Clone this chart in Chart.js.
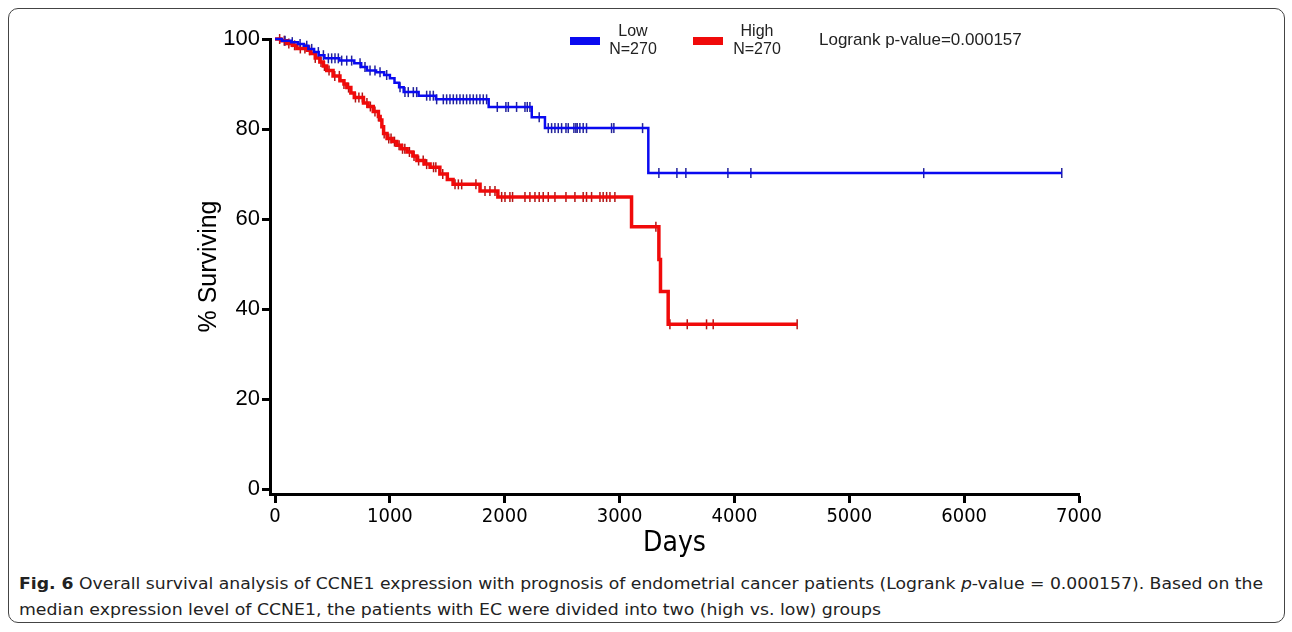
<!DOCTYPE html>
<html>
<head>
<meta charset="utf-8">
<script src="https://cdn.jsdelivr.net/npm/chart.js@4/dist/chart.umd.min.js"></script>
<style>
    body { margin: 0; background: #fff; width: 1292px; height: 632px; position: relative; overflow: hidden; }
    #card { position: absolute; left: 8px; top: 8px; width: 1275px; height: 613px; border: 1px solid #444; border-radius: 10px; }
    #wrap { position: absolute; left: 0; top: 0; width: 1292px; height: 570px; }
    .swatch { position: absolute; height: 8px; width: 30px; }
    .lg { position: absolute; width: 64px; text-align: center; font: 16px 'Liberation Sans', Arial, sans-serif; line-height: 18px; color: #222; }
    #pval { position: absolute; left: 819px; top: 30px; font: 17px 'Liberation Sans', Arial, sans-serif; line-height: 20px; color: #222; white-space: nowrap; }
    #caption { position: absolute; left: 19px; top: 571px; font: 16px 'DejaVu Sans Condensed', 'DejaVu Sans', sans-serif; font-stretch: condensed; line-height: 26px; color: #222; white-space: nowrap; }
    #caption div { transform-origin: left center; display: inline-block; }
</style>
</head>
<body>
<div id="card"></div>
<div id="wrap"><canvas id="km-chart"></canvas></div>

<div class="swatch" style="left:570px; top:37px; background:#0a0af0;"></div>
<div class="lg" style="left:601px; top:22px;">Low<br>N=270</div>
<div class="swatch" style="left:693px; top:37px; background:#f00a0a;"></div>
<div class="lg" style="left:725px; top:22px;">High<br>N=270</div>
<div id="pval">Logrank p-value=0.000157</div>

<div id="caption">
    <div id="cap1"><b>Fig. 6</b> Overall survival analysis of CCNE1 expression with prognosis of endometrial cancer patients (Logrank <i>p</i>-value = 0.000157). Based on the</div><br>
    <div id="cap2">median expression level of CCNE1, the patients with EC were divided into two (high vs. low) groups</div>
</div>

<script>
// Kaplan-Meier steps (days, % surviving)
const lowTimes = [0, 60, 140, 200, 250, 290, 340, 380, 430, 560, 690, 750, 800, 880, 950, 1000, 1040, 1080, 1120, 1250, 1400, 1860, 2235, 2350, 3250, 6850];
const lowSurv  = [100, 99.6, 99.3, 98.9, 98.5, 97.8, 97.1, 96.4, 95.7, 95.2, 94.6, 93.8, 93.0, 92.6, 92.0, 91.3, 90.3, 89.3, 88.2, 87.4, 86.6, 84.9, 82.6, 80.2, 70.2, 70.2];

const highTimes = [0, 50, 100, 150, 190, 280, 310, 350, 390, 420, 450, 505, 565, 600, 625, 660, 690, 770, 810, 855, 900, 915, 930, 945, 975, 1020, 1060, 1100, 1150, 1200, 1235, 1300, 1350, 1435, 1500, 1550, 1785, 1940, 3104, 3342, 3356, 3423, 4546];
const highSurv  = [100, 99.6, 99.0, 98.6, 97.9, 97.5, 96.8, 95.8, 94.9, 94.0, 93.0, 91.8, 90.7, 90.0, 89.2, 88.0, 87.0, 85.8, 85.0, 83.9, 82.8, 82.0, 80.5, 79.0, 77.9, 77.2, 76.4, 75.6, 74.9, 74.0, 73.0, 72.2, 71.5, 70.0, 68.8, 67.7, 66.2, 64.9, 58.3, 51.0, 43.9, 36.6, 36.6];

// censored observations (days)
const lowCensor = [87, 150, 218, 276, 319, 377, 421, 464, 493, 522, 551, 580, 624, 667, 740, 783, 827, 870, 914, 972, 1088, 1131, 1160, 1204, 1233, 1320, 1349, 1378,
    1407, 1465, 1494, 1523, 1552, 1581, 1610, 1639, 1668, 1697, 1726, 1755, 1784, 1813, 1842,
    1935, 2010, 2031, 2103, 2176, 2196, 2219, 2300,
    2379, 2408, 2437, 2466, 2495, 2533, 2553, 2602, 2619, 2631, 2654, 2683, 2712, 2930, 2950, 3200,
    3342, 3499, 3577, 3943, 4143, 5648, 6850];
const highCensor = [40, 80, 120, 170, 220, 260, 300, 350, 400, 430, 470, 520, 560, 600, 640, 700, 730, 760, 800, 830, 870, 900, 950, 990, 1010, 1040, 1080, 1110, 1130, 1170, 1210, 1250, 1290, 1320, 1380, 1400, 1460,
    1567, 1596, 1625, 1749, 1828, 1871, 1915,
    1973, 2002, 2045, 2068, 2176, 2219, 2263, 2300, 2335, 2379, 2437, 2533, 2611, 2683, 2712, 2756, 2829, 2857, 2887, 2916, 2959,
    3316, 3438, 3589, 3757, 3815, 4546];

const xTicks = [0, 1000, 2000, 3000, 4000, 5000, 6000, 7000];
const yTicks = [0, 20, 40, 60, 80, 100];

function toPoints(times, surv) {
    return times.map((t, i) => ({ x: t, y: surv[i] }));
}

// place a censor mark on the curve at that day
function censorPoints(censor, times, surv) {
    return censor.map(t => {
        let s = surv[0];
        times.forEach((st, i) => { if (st <= t) s = surv[i]; });
        return { x: t, y: s };
    });
}

new Chart(document.getElementById('km-chart'), {
    type: 'line',
    data: {
        datasets: [
            {
                label: 'Low',
                data: toPoints(lowTimes, lowSurv),
                borderColor: '#0a0af0',
                borderWidth: 2.5,
                stepped: true,
                pointRadius: 0,
                clip: false
            },
            {
                label: 'High',
                data: toPoints(highTimes, highSurv),
                borderColor: '#f00a0a',
                borderWidth: 3.5,
                stepped: true,
                pointRadius: 0,
                clip: false
            },
            {
                label: 'Low censored',
                data: censorPoints(lowCensor, lowTimes, lowSurv),
                showLine: false,
                pointStyle: 'line',
                rotation: 90,
                pointRadius: 5,
                borderWidth: 1.5,
                borderColor: '#23239a',
                clip: false
            },
            {
                label: 'High censored',
                data: censorPoints(highCensor, highTimes, highSurv),
                showLine: false,
                pointStyle: 'line',
                rotation: 90,
                pointRadius: 5,
                borderWidth: 1.5,
                borderColor: '#b01515',
                clip: false
            }
        ]
    },
    options: {
        responsive: true,
        maintainAspectRatio: false,
        animation: false,
        layout: { padding: { left: 190, right: 213, top: 39, bottom: 5 } },
        plugins: {
            legend: { display: false },
            tooltip: { enabled: false }
        },
        scales: {
            x: {
                type: 'linear',
                min: -44,
                max: 7000,
                afterBuildTicks: s => { s.ticks = xTicks.map(v => ({ value: v })); },
                afterFit: s => { s.height = 71; },
                border: { display: true, color: '#000', width: 3 },
                grid: { drawOnChartArea: false, drawTicks: true, tickLength: 9, tickWidth: 3, color: '#000' },
                ticks: {
                    color: '#000',
                    font: { family: 'DejaVu Sans Condensed', size: 20 },
                    padding: 2,
                    maxRotation: 0,
                    autoSkip: false,
                    callback: v => String(v)
                },
                title: { display: true, text: 'Days', color: '#000', font: { family: 'DejaVu Sans Condensed', size: 28 }, padding: { top: 0, bottom: 4 } }
            },
            y: {
                min: -1.1,
                max: 100,
                afterBuildTicks: s => { s.ticks = yTicks.map(v => ({ value: v })); },
                afterFit: s => { s.width = 80; },
                border: { display: true, color: '#000', width: 3 },
                grid: { drawOnChartArea: false, drawTicks: true, tickLength: 8, tickWidth: 3, color: '#000' },
                ticks: { color: '#000', font: { family: 'Liberation Sans', size: 22 }, padding: 2 },
                title: { display: true, text: '% Surviving', color: '#000', font: { family: 'Liberation Sans', size: 25 }, padding: { top: 4, bottom: 4 } }
            }
        }
    }
});

// stretch each caption line to the width it has in the figure
[['cap1', 1244], ['cap2', 862]].forEach(([id, w]) => {
    const el = document.getElementById(id);
    el.style.transform = 'scaleX(' + (w / el.getBoundingClientRect().width) + ')';
});
</script>
</body>
</html>
